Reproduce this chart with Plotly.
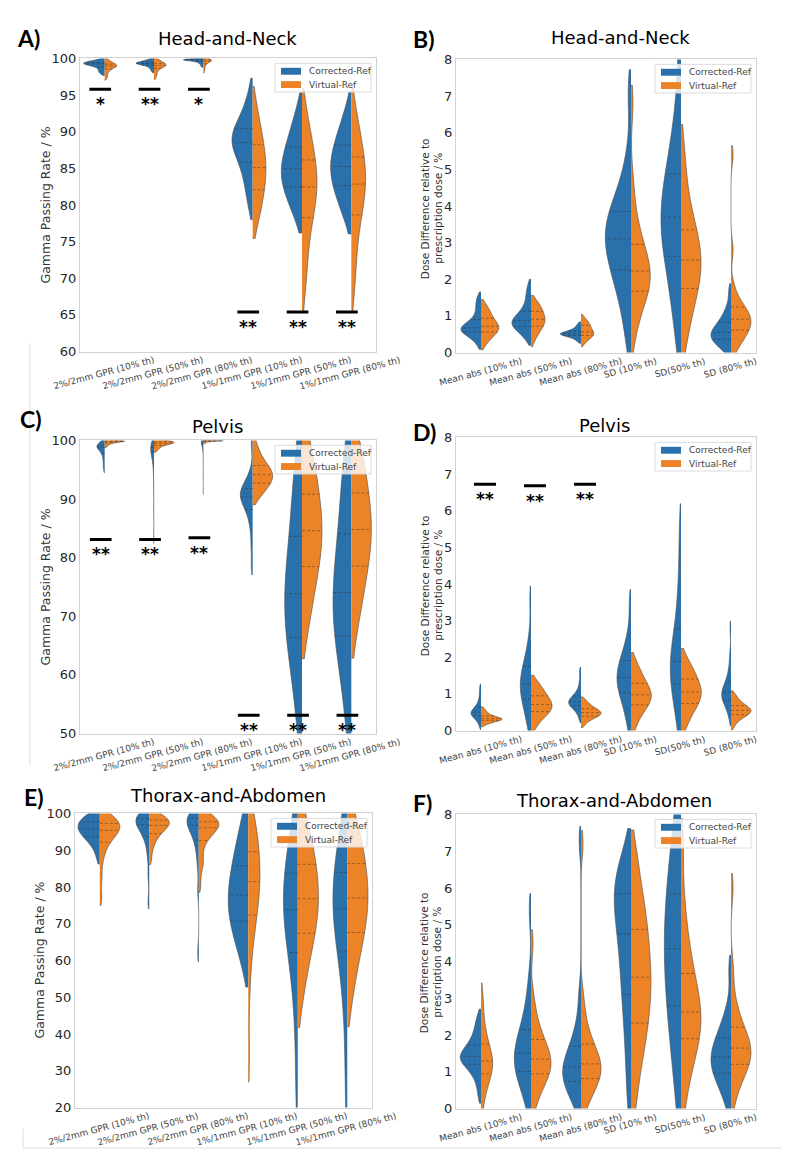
import numpy as np
import plotly.graph_objects as go

W, H = 789, 1152
BLUE, ORANGE = "#2a71ab", "#ec8326"
EDGE = "#4d4d4d"
FONT = "DejaVu Sans"

gpr_categories = ["2%/2mm GPR (10% th)", "2%/2mm GPR (50% th)", "2%/2mm GPR (80% th)",
                  "1%/1mm GPR (10% th)", "1%/1mm GPR (50% th)", "1%/1mm GPR (80% th)"]
dose_categories = ["Mean abs (10% th)", "Mean abs (50% th)", "Mean abs (80% th)",
                   "SD (10% th)", "SD(50% th)", "SD (80% th)"]
series_names = ["Corrected-Ref", "Virtual-Ref"]

# ---------------- A) Head-and-Neck, gamma passing rate (%) ----------------
hn_gpr_corrected = [
    [99.9, 99.7, 99.6, 99.5, 99.5, 99.4, 99.4, 99.3, 99.3, 99.3, 99.2, 99.2, 99.1, 99.0, 98.9, 98.7, 98.5, 98.3, 98.1, 97.9],
    [99.9, 99.8, 99.7, 99.6, 99.5, 99.5, 99.4, 99.4, 99.4, 99.3, 99.3, 99.3, 99.2, 99.2, 99.1, 99.0, 98.9, 98.7, 98.5, 98.2],
    [100.0, 99.95, 99.9, 99.9, 99.9, 99.85, 99.85, 99.8, 99.8, 99.8, 99.75, 99.75, 99.7, 99.7, 99.6, 99.5, 99.4, 99.3, 99.1, 98.9],
    [95.5, 93.5, 92.3, 91.5, 90.8, 90.3, 89.8, 89.4, 89.0, 88.7, 88.3, 87.9, 87.4, 86.8, 86.0, 85.2, 84.2, 83.0, 81.5, 79.8],
    [93.2, 91.5, 90.3, 89.3, 88.5, 87.7, 87.0, 86.4, 85.8, 85.2, 84.7, 84.2, 83.7, 83.2, 82.6, 82.0, 81.3, 80.5, 79.4, 78.3],
    [93.3, 91.6, 90.4, 89.5, 88.7, 88.0, 87.3, 86.7, 86.1, 85.5, 85.0, 84.5, 84.0, 83.4, 82.8, 82.1, 81.3, 80.4, 79.3, 78.2],
]
hn_gpr_virtual = [
    [99.9, 99.7, 99.5, 99.4, 99.3, 99.2, 99.1, 99.1, 99.0, 99.0, 98.9, 98.9, 98.8, 98.7, 98.6, 98.4, 98.2, 97.9, 97.6, 97.3],
    [99.9, 99.8, 99.6, 99.5, 99.4, 99.3, 99.2, 99.2, 99.1, 99.1, 99.0, 99.0, 98.9, 98.8, 98.7, 98.5, 98.3, 98.0, 97.7, 97.4],
    [100.0, 99.95, 99.9, 99.85, 99.8, 99.8, 99.75, 99.7, 99.7, 99.65, 99.6, 99.6, 99.5, 99.4, 99.3, 99.2, 99.0, 98.8, 98.5, 98.2],
    [93.8, 92.0, 90.8, 89.8, 88.9, 88.0, 87.3, 86.6, 86.0, 85.4, 84.8, 84.2, 83.6, 83.0, 82.3, 81.5, 80.6, 79.5, 78.5, 77.8],
    [92.8, 90.8, 89.3, 88.0, 86.9, 85.9, 85.0, 84.2, 83.5, 82.8, 82.1, 81.4, 80.6, 79.7, 78.6, 77.3, 75.6, 73.5, 70.8, 68.5],
    [92.9, 91.0, 89.6, 88.4, 87.3, 86.3, 85.4, 84.6, 83.9, 83.2, 82.5, 81.8, 81.0, 80.1, 79.0, 77.6, 75.9, 73.7, 70.9, 68.5],
]
hn_sig_levels = [95.8, 95.8, 95.8, 65.4, 65.4, 65.4]
hn_sig_labels = ["*", "**", "*", "**", "**", "**"]

# ---------------- B) Head-and-Neck, dose difference (%) ----------------
hn_dose_corrected = [
    [0.22, 0.35, 0.45, 0.50, 0.54, 0.57, 0.60, 0.62, 0.64, 0.66, 0.69, 0.72, 0.76, 0.81, 0.88, 0.97, 1.10, 1.25, 1.38, 1.52],
    [0.36, 0.48, 0.57, 0.63, 0.68, 0.72, 0.76, 0.79, 0.82, 0.85, 0.88, 0.92, 0.97, 1.03, 1.10, 1.20, 1.32, 1.48, 1.65, 1.84],
    [0.30, 0.36, 0.40, 0.43, 0.45, 0.47, 0.48, 0.49, 0.50, 0.51, 0.52, 0.53, 0.54, 0.56, 0.58, 0.60, 0.63, 0.67, 0.72, 0.79],
    [0.3, 1.0, 1.5, 1.8, 2.1, 2.3, 2.5, 2.7, 2.9, 3.0, 3.2, 3.3, 3.5, 3.6, 3.8, 4.0, 4.2, 4.6, 5.3, 7.1],
    [0.3, 1.0, 1.6, 2.0, 2.4, 2.7, 3.0, 3.2, 3.4, 3.6, 3.8, 4.0, 4.2, 4.5, 4.8, 5.1, 5.5, 6.0, 6.8, 8.3],
    [0.05, 0.15, 0.22, 0.28, 0.33, 0.37, 0.41, 0.45, 0.49, 0.53, 0.57, 0.62, 0.67, 0.73, 0.80, 0.88, 0.98, 1.10, 1.30, 1.70],
]
hn_dose_virtual = [
    [0.22, 0.33, 0.42, 0.48, 0.53, 0.57, 0.61, 0.64, 0.67, 0.70, 0.73, 0.77, 0.81, 0.86, 0.92, 0.99, 1.06, 1.14, 1.22, 1.30],
    [0.32, 0.45, 0.55, 0.62, 0.68, 0.73, 0.77, 0.81, 0.85, 0.89, 0.93, 0.97, 1.01, 1.06, 1.11, 1.17, 1.23, 1.29, 1.35, 1.40],
    [0.26, 0.33, 0.38, 0.42, 0.45, 0.47, 0.49, 0.51, 0.53, 0.55, 0.57, 0.60, 0.64, 0.70, 0.74, 0.76, 0.78, 0.82, 0.88, 0.94],
    [0.4, 0.9, 1.2, 1.4, 1.6, 1.7, 1.85, 1.95, 2.05, 2.15, 2.3, 2.4, 2.55, 2.7, 2.9, 3.1, 3.4, 3.8, 4.6, 6.8],
    [0.2, 0.7, 1.1, 1.4, 1.6, 1.8, 2.0, 2.15, 2.3, 2.45, 2.6, 2.75, 2.9, 3.1, 3.3, 3.5, 3.8, 4.2, 4.8, 5.6],
    [0.08, 0.25, 0.38, 0.48, 0.56, 0.63, 0.70, 0.76, 0.82, 0.88, 0.94, 1.00, 1.07, 1.14, 1.22, 1.32, 1.48, 1.80, 2.8, 5.4],
]

# ---------------- C) Pelvis, gamma passing rate (%) ----------------
pelvis_gpr_corrected = [
    [99.8, 99.6, 99.4, 99.3, 99.2, 99.1, 99.0, 99.0, 98.9, 98.8, 98.7, 98.6, 98.4, 98.2, 97.9, 97.5, 97.0, 96.4, 95.7, 95.0],
    [99.8, 99.5, 99.3, 99.1, 98.9, 98.8, 98.6, 98.5, 98.4, 98.2, 98.0, 97.8, 97.5, 97.0, 96.3, 95.3, 93.8, 91.5, 88.0, 83.5],
    [99.95, 99.9, 99.85, 99.8, 99.75, 99.7, 99.65, 99.6, 99.55, 99.5, 99.4, 99.3, 99.2, 99.0, 98.7, 98.3, 97.6, 96.5, 94.5, 91.2],
    [99.5, 94.5, 93.3, 92.6, 92.1, 91.7, 91.4, 91.1, 90.8, 90.5, 90.2, 89.9, 89.5, 89.0, 88.4, 87.6, 86.5, 84.8, 82.0, 78.5],
    [99.5, 96.5, 93.5, 90.5, 88.0, 85.5, 83.0, 81.0, 79.0, 77.5, 76.0, 74.5, 73.2, 72.0, 70.8, 69.5, 68.2, 66.8, 65.2, 63.5, 61.0, 58.0, 54.5, 49.0],
    [99.5, 96.8, 93.8, 91.0, 88.5, 86.0, 83.5, 81.3, 79.3, 77.7, 76.2, 74.7, 73.4, 72.2, 71.0, 69.7, 68.4, 67.0, 65.4, 63.6, 61.2, 58.2, 54.6, 49.2],
]
pelvis_gpr_virtual = [
    [100.0, 100.0, 99.95, 99.95, 99.9, 99.9, 99.9, 99.85, 99.85, 99.8, 99.8, 99.75, 99.7, 99.65, 99.6, 99.5, 99.4, 99.3, 99.1, 98.9],
    [100.0, 99.95, 99.9, 99.85, 99.8, 99.75, 99.7, 99.65, 99.6, 99.55, 99.5, 99.45, 99.4, 99.3, 99.2, 99.1, 98.9, 98.7, 98.5, 98.2],
    [100.0, 100.0, 100.0, 99.98, 99.97, 99.96, 99.95, 99.94, 99.93, 99.92, 99.9, 99.9, 99.88, 99.86, 99.84, 99.8, 99.75, 99.7, 99.6, 99.5],
    [99.6, 98.3, 97.3, 96.6, 96.1, 95.6, 95.2, 94.9, 94.6, 94.3, 94.0, 93.7, 93.4, 93.1, 92.8, 92.4, 92.0, 91.5, 90.9, 90.2],
    [99.7, 98.5, 96.8, 95.0, 93.3, 91.8, 90.5, 89.3, 88.2, 87.1, 86.1, 85.1, 84.1, 83.1, 82.1, 81.1, 80.0, 78.8, 77.5, 76.0, 74.3, 72.3, 70.0, 67.3],
    [99.7, 98.6, 97.0, 95.2, 93.5, 92.0, 90.7, 89.5, 88.4, 87.3, 86.3, 85.3, 84.3, 83.3, 82.3, 81.2, 80.1, 78.9, 77.6, 76.1, 74.4, 72.4, 70.1, 67.4],
]
pelvis_gpr_sig_levels = [83.1, 83.1, 83.4, 53.1, 53.1, 53.1]
pelvis_gpr_sig_labels = ["**", "**", "**", "**", "**", "**"]

# ---------------- D) Pelvis, dose difference (%) ----------------
pelvis_dose_corrected = [
    [0.12, 0.25, 0.32, 0.36, 0.39, 0.41, 0.43, 0.45, 0.47, 0.49, 0.51, 0.53, 0.56, 0.59, 0.63, 0.68, 0.75, 0.85, 1.0, 1.18],
    [0.05, 0.3, 0.5, 0.65, 0.78, 0.9, 1.0, 1.08, 1.16, 1.24, 1.32, 1.40, 1.50, 1.60, 1.72, 1.85, 2.0, 2.2, 2.6, 3.6],
    [0.32, 0.48, 0.56, 0.61, 0.65, 0.68, 0.71, 0.74, 0.76, 0.78, 0.80, 0.83, 0.86, 0.89, 0.93, 0.98, 1.05, 1.15, 1.35, 1.62],
    [0.05, 0.4, 0.6, 0.8, 0.95, 1.05, 1.15, 1.25, 1.33, 1.41, 1.49, 1.58, 1.67, 1.77, 1.88, 2.0, 2.15, 2.35, 2.7, 3.5],
    [0.05, 0.4, 0.7, 0.95, 1.15, 1.3, 1.45, 1.58, 1.7, 1.82, 1.95, 2.1, 2.25, 2.45, 2.7, 3.0, 3.4, 3.9, 4.7, 5.6],
    [0.32, 0.55, 0.66, 0.74, 0.8, 0.85, 0.9, 0.94, 0.98, 1.02, 1.06, 1.11, 1.16, 1.22, 1.3, 1.4, 1.55, 1.75, 2.1, 2.8],
]
pelvis_dose_virtual = [
    [0.15, 0.20, 0.23, 0.25, 0.27, 0.28, 0.29, 0.30, 0.31, 0.32, 0.33, 0.34, 0.35, 0.37, 0.39, 0.42, 0.45, 0.49, 0.54, 0.60],
    [0.08, 0.25, 0.35, 0.42, 0.48, 0.53, 0.57, 0.61, 0.65, 0.69, 0.73, 0.77, 0.82, 0.87, 0.93, 1.0, 1.07, 1.15, 1.24, 1.34],
    [0.16, 0.25, 0.31, 0.35, 0.38, 0.40, 0.42, 0.44, 0.46, 0.48, 0.50, 0.52, 0.54, 0.56, 0.59, 0.62, 0.66, 0.71, 0.77, 0.84],
    [0.05, 0.3, 0.45, 0.56, 0.65, 0.72, 0.79, 0.85, 0.9, 0.95, 1.0, 1.06, 1.12, 1.19, 1.27, 1.36, 1.46, 1.58, 1.72, 1.9],
    [0.05, 0.3, 0.45, 0.58, 0.68, 0.76, 0.83, 0.9, 0.96, 1.02, 1.08, 1.15, 1.22, 1.3, 1.38, 1.47, 1.57, 1.68, 1.8, 1.98],
    [0.12, 0.25, 0.32, 0.37, 0.41, 0.44, 0.47, 0.5, 0.52, 0.54, 0.56, 0.58, 0.61, 0.64, 0.67, 0.71, 0.76, 0.82, 0.9, 0.99],
]
pelvis_dose_sig_levels = [6.72, 6.68, 6.72, None, None, None]
pelvis_dose_sig_labels = ["**", "**", "**", "", "", ""]

# ---------------- E) Thorax-and-Abdomen, gamma passing rate (%) ----------------
ta_gpr_corrected = [
    [99.9, 99.5, 99.0, 98.5, 98.0, 97.6, 97.2, 96.8, 96.4, 96.0, 95.6, 95.2, 94.8, 94.3, 93.8, 93.2, 92.5, 91.6, 90.3, 87.8],
    [100.0, 99.8, 99.5, 99.2, 98.9, 98.6, 98.3, 98.0, 97.6, 97.2, 96.7, 96.2, 95.6, 94.9, 94.0, 92.8, 91.0, 88.0, 83.0, 76.0],
    [100.0, 99.8, 99.5, 99.2, 98.9, 98.6, 98.3, 97.9, 97.5, 97.0, 96.5, 95.9, 95.2, 94.3, 93.2, 91.6, 89.5, 86.0, 79.0, 62.0],
    [99.5, 95.5, 92.5, 90.0, 87.8, 85.8, 84.0, 82.3, 80.7, 79.2, 77.8, 76.4, 75.0, 73.6, 72.2, 70.7, 69.1, 67.3, 65.2, 62.5, 58.5],
    [99.5, 96.5, 93.5, 91.0, 88.8, 86.8, 85.0, 83.3, 81.7, 80.2, 78.8, 77.4, 76.0, 74.6, 73.2, 71.8, 70.3, 68.7, 67.0, 65.0, 62.8, 60.3, 57.4, 53.8, 49.0, 42.0, 32.0, 21.0],
    [99.5, 96.6, 93.7, 91.2, 89.0, 87.0, 85.2, 83.5, 81.9, 80.4, 79.0, 77.6, 76.2, 74.8, 73.4, 72.0, 70.5, 68.9, 67.2, 65.2, 63.0, 60.5, 57.6, 54.0, 49.2, 42.2, 32.2, 21.2],
]
ta_gpr_virtual = [
    [99.8, 99.2, 98.6, 98.1, 97.6, 97.2, 96.8, 96.4, 96.0, 95.6, 95.2, 94.7, 94.1, 93.4, 92.5, 91.2, 89.6, 87.0, 82.5, 77.0],
    [99.9, 99.5, 99.1, 98.7, 98.4, 98.1, 97.8, 97.5, 97.2, 96.9, 96.6, 96.2, 95.8, 95.3, 94.7, 94.0, 93.1, 92.0, 90.3, 87.5],
    [99.8, 99.3, 98.8, 98.4, 98.0, 97.6, 97.3, 97.0, 96.7, 96.3, 95.9, 95.4, 94.8, 94.0, 93.0, 91.6, 89.0, 86.5, 85.5, 80.5],
    [99.8, 98.0, 96.0, 94.0, 92.0, 90.0, 88.3, 86.7, 85.2, 83.7, 82.2, 80.7, 79.2, 77.6, 75.9, 74.0, 71.8, 69.2, 66.0, 61.5, 52.0, 33.5],
    [99.6, 97.0, 94.5, 92.3, 90.3, 88.4, 86.6, 84.9, 83.3, 81.8, 80.3, 78.9, 77.5, 76.1, 74.7, 73.3, 71.8, 70.3, 68.7, 67.0, 65.1, 63.0, 60.5, 57.5, 53.5, 48.5],
    [99.6, 97.1, 94.7, 92.5, 90.5, 88.6, 86.8, 85.1, 83.5, 82.0, 80.5, 79.1, 77.7, 76.3, 74.9, 73.5, 72.0, 70.5, 68.9, 67.2, 65.3, 63.2, 60.7, 57.7, 53.7, 48.7],
]

# ---------------- F) Thorax-and-Abdomen, dose difference (%) ----------------
ta_dose_corrected = [
    [0.35, 0.7, 0.9, 1.05, 1.15, 1.22, 1.28, 1.32, 1.36, 1.40, 1.44, 1.49, 1.55, 1.62, 1.70, 1.80, 1.92, 2.08, 2.28, 2.5],
    [0.05, 0.4, 0.6, 0.78, 0.92, 1.04, 1.15, 1.25, 1.35, 1.45, 1.56, 1.67, 1.80, 1.94, 2.1, 2.3, 2.55, 2.9, 3.5, 5.4],
    [0.05, 0.25, 0.42, 0.55, 0.66, 0.76, 0.85, 0.93, 1.01, 1.09, 1.18, 1.28, 1.39, 1.51, 1.65, 1.82, 2.05, 2.4, 3.1, 7.3],
    [0.1, 1.0, 1.7, 2.3, 2.8, 3.2, 3.6, 3.95, 4.3, 4.6, 4.9, 5.15, 5.4, 5.6, 5.8, 6.0, 6.2, 6.4, 6.65, 7.0],
    [0.1, 1.0, 1.6, 2.1, 2.5, 2.9, 3.3, 3.6, 3.9, 4.2, 4.5, 4.8, 5.1, 5.4, 5.75, 6.1, 6.5, 7.0, 7.6, 8.3],
    [0.05, 0.4, 0.6, 0.75, 0.88, 0.99, 1.09, 1.18, 1.27, 1.36, 1.45, 1.55, 1.65, 1.76, 1.88, 2.02, 2.18, 2.4, 2.75, 3.8],
]
ta_dose_virtual = [
    [0.05, 0.4, 0.6, 0.75, 0.87, 0.97, 1.05, 1.12, 1.19, 1.26, 1.33, 1.41, 1.50, 1.60, 1.72, 1.86, 2.05, 2.3, 2.7, 3.1],
    [0.05, 0.4, 0.6, 0.75, 0.87, 0.97, 1.06, 1.14, 1.22, 1.30, 1.39, 1.48, 1.58, 1.70, 1.84, 2.0, 2.2, 2.5, 3.0, 4.5],
    [0.05, 0.3, 0.5, 0.63, 0.74, 0.84, 0.93, 1.01, 1.09, 1.17, 1.26, 1.35, 1.45, 1.57, 1.71, 1.88, 2.1, 2.45, 3.0, 7.2],
    [0.1, 0.9, 1.4, 1.8, 2.1, 2.4, 2.7, 2.95, 3.2, 3.45, 3.7, 3.95, 4.2, 4.5, 4.8, 5.1, 5.4, 5.8, 6.3, 7.0],
    [0.1, 0.8, 1.2, 1.5, 1.75, 1.95, 2.1, 2.25, 2.4, 2.55, 2.7, 2.9, 3.1, 3.35, 3.6, 3.9, 4.3, 4.8, 5.6, 7.2],
    [0.2, 0.6, 0.85, 1.0, 1.12, 1.23, 1.33, 1.42, 1.51, 1.60, 1.69, 1.79, 1.90, 2.02, 2.17, 2.35, 2.6, 3.0, 3.8, 6.0],
]

NO_SIG = [None] * 6
NO_LAB = [""] * 6
GPR_TITLE = ["Gamma Passing Rate / %"]
DOSE_TITLE = ["Dose Difference relative to", "prescription dose / %"]
BW1 = [1, 1, 1, 1, 1, 1]

# ---------------- layout / style (pixels) ----------------
panels = [
    dict(letter="A)", title="Head-and-Neck", cats=gpr_categories, blue=hn_gpr_corrected, orange=hn_gpr_virtual,
         yrange=[60, 100], dtick=5, ytitle=GPR_TITLE, box=(72, 44, 368, 341),
         hw_blue=[21, 18, 20, 20.7, 20.7, 20.7], hw_orange=[12, 12, 8, 13.3, 15, 14.3], bw_scale=BW1,
         sig=hn_sig_levels, sig_lab=hn_sig_labels, sig_off=-0.09,
         title_xy=(220, 24), letter_xy=(20, 23), ytitle_xy=(37, 193)),
    dict(letter="B)", title="Head-and-Neck", cats=dose_categories, blue=hn_dose_corrected, orange=hn_dose_virtual,
         yrange=[0, 8], dtick=1, ytitle=DOSE_TITLE, box=(448, 45, 748, 342),
         hw_blue=[20, 19, 20.7, 25.7, 20, 20], hw_orange=[17.7, 14, 12.7, 19.3, 20, 20], bw_scale=BW1,
         sig=NO_SIG, sig_lab=NO_LAB, sig_off=0,
         title_xy=(612, 23), letter_xy=(415, 24), ytitle_xy=(426, 196)),
    dict(letter="C)", title="Pelvis", cats=gpr_categories, blue=pelvis_gpr_corrected, orange=pelvis_gpr_virtual,
         yrange=[50, 100], dtick=10, ytitle=GPR_TITLE, box=(72, 431, 368, 728),
         hw_blue=[7.7, 3.3, 2, 12.3, 17.3, 18.3], hw_orange=[20, 20, 20, 20, 20, 20], bw_scale=BW1,
         sig=pelvis_gpr_sig_levels, sig_lab=pelvis_gpr_sig_labels, sig_off=-0.08,
         title_xy=(209, 417), letter_xy=(23, 409), ytitle_xy=(37, 580)),
    dict(letter="D)", title="Pelvis", cats=dose_categories, blue=pelvis_dose_corrected, orange=pelvis_dose_virtual,
         yrange=[0, 8], dtick=1, ytitle=DOSE_TITLE, box=(448, 428, 748, 725),
         hw_blue=[10, 10.7, 12.3, 14, 10.7, 9.3], hw_orange=[21, 21, 20, 20.3, 20.3, 20], bw_scale=BW1,
         sig=pelvis_dose_sig_levels, sig_lab=pelvis_dose_sig_labels, sig_off=0.08,
         title_xy=(596, 416), letter_xy=(416, 423), ytitle_xy=(426, 578)),
    dict(letter="E)", title="Thorax-and-Abdomen", cats=gpr_categories, blue=ta_gpr_corrected, orange=ta_gpr_virtual,
         yrange=[20, 100], dtick=10, ytitle=GPR_TITLE, box=(67, 809, 364, 1107),
         hw_blue=[21.7, 13.3, 11.7, 20, 14.3, 14.3], hw_orange=[20, 20, 20, 11.7, 20.7, 20.7], bw_scale=BW1,
         sig=NO_SIG, sig_lab=NO_LAB, sig_off=0,
         title_xy=(220, 791), letter_xy=(26, 792), ytitle_xy=(32, 958)),
    dict(letter="F)", title="Thorax-and-Abdomen", cats=dose_categories, blue=ta_dose_corrected, orange=ta_dose_virtual,
         yrange=[0, 8], dtick=1, ytitle=DOSE_TITLE, box=(448, 810, 748, 1108),
         hw_blue=[20.7, 16.7, 18.3, 16.7, 16.7, 20], hw_orange=[11.7, 20, 20, 20, 20, 20],
         bw_scale=[1, 1, 1, 0.6, 1, 1],
         sig=NO_SIG, sig_lab=NO_LAB, sig_off=0,
         title_xy=(606, 796), letter_xy=(414, 798), ytitle_xy=(424, 960)),
]

SPAN_BW = 0.9  # how far (in bandwidths) each violin extends past its data


def px(x):
    return x / W


def py(y):
    return 1 - y / H


def silverman(v):
    q1, q3 = np.percentile(v, [25, 75])
    a = min(np.std(v, ddof=1), (q3 - q1) / 1.349)
    return 1.059 * a * len(v) ** -0.2


def kde_profile(v, bw, lo, hi):
    n = int(np.ceil((hi - lo) / (bw / 3)))
    grid = np.linspace(lo, hi, n + 1)

    def dens(t):
        t = np.atleast_1d(np.asarray(t, float))[:, None]
        return np.exp(-0.5 * ((t - v) / bw) ** 2).sum(1) / (len(v) * bw * np.sqrt(2 * np.pi))

    return dens, dens(grid).max()


fig = go.Figure()
layout_axes = {}
annotations = []
shapes = []

for k, p in enumerate(panels):
    n = k + 1
    xa, ya = ("x", "y") if n == 1 else (f"x{n}", f"y{n}")
    xkey, ykey = ("xaxis", "yaxis") if n == 1 else (f"xaxis{n}", f"yaxis{n}")
    L, T, R, B = p["box"]
    step_px = (R - L) / 6.0

    layout_axes[xkey] = dict(domain=[px(L), px(R)], anchor=ya, range=[-0.5, 5.5],
                             showticklabels=False, ticks="", showgrid=False, zeroline=False,
                             showline=True, mirror=True, linecolor="#d2d2d2", linewidth=1, fixedrange=True)
    layout_axes[ykey] = dict(domain=[py(B), py(T)], anchor=xa, range=p["yrange"], dtick=p["dtick"], tick0=0,
                             ticks="", showgrid=False, zeroline=False, showline=True, mirror=True,
                             linecolor="#d2d2d2", linewidth=1, fixedrange=True,
                             tickfont=dict(family=FONT, size=13, color="#262626"))

    for i in range(6):
        for side, vals, hw, color in (("negative", p["blue"][i], p["hw_blue"][i], BLUE),
                                      ("positive", p["orange"][i], p["hw_orange"][i], ORANGE)):
            v = np.asarray(vals, float)
            bw = silverman(v) * p["bw_scale"][i]
            lo, hi = v.min() - SPAN_BW * bw, v.max() + SPAN_BW * bw
            width = 2 * hw / step_px
            fig.add_trace(go.Violin(
                x=[i] * len(v), y=v, xaxis=xa, yaxis=ya, side=side, width=width,
                scalemode="width", scalegroup=f"g{n}_{i}_{side}", bandwidth=bw,
                spanmode="manual", span=[lo, hi],
                points=False, fillcolor=color, line=dict(color=EDGE, width=0.6),
                showlegend=False, hoverinfo="skip", opacity=1,
                name=series_names[0] if side == "negative" else series_names[1]))
            dens, dmax = kde_profile(v, bw, lo, hi)
            qs = np.percentile(v, [25, 50, 75])
            sgn = -1 if side == "negative" else 1
            xs, ys = [], []
            for q in qs:
                xs += [i, i + sgn * (width / 2) * dens(q)[0] / dmax, None]
                ys += [q, q, None]
            fig.add_trace(go.Scatter(x=xs, y=ys, xaxis=xa, yaxis=ya, mode="lines",
                                     line=dict(color="rgba(45,45,45,0.55)", width=0.8, dash="3px,2px"),
                                     showlegend=False, hoverinfo="skip"))

    # category labels (rotated, centred under each violin)
    for i, c in enumerate(p["cats"]):
        annotations.append(dict(x=i, y=0, xref=xa, yref=f"{ya} domain", yshift=-1, xshift=-1,
                                text=c, textangle=-15, showarrow=False, xanchor="center", yanchor="top",
                                font=dict(family=FONT, size=9, color="#444444")))

    # significance bars
    for i, (lvl, lab) in enumerate(zip(p["sig"], p["sig_lab"])):
        if lvl is None:
            continue
        c = i + p["sig_off"]
        shapes.append(dict(type="line", xref=xa, yref=ya, x0=c - 0.22, x1=c + 0.22, y0=lvl, y1=lvl,
                           line=dict(color="black", width=3), layer="above"))
        annotations.append(dict(x=c, y=lvl, xref=xa, yref=ya, yshift=-15, text=f"<b>{lab}</b>",
                                showarrow=False, xanchor="center", yanchor="middle",
                                font=dict(family=FONT, size=17, color="black")))

    # titles
    tx, ty = p["title_xy"]
    annotations.append(dict(x=px(tx), y=py(ty), xref="paper", yref="paper", text=p["title"], showarrow=False,
                            xanchor="center", yanchor="middle", font=dict(family=FONT, size=18, color="black")))
    lx, ly = p["letter_xy"]
    annotations.append(dict(x=px(lx), y=py(ly), xref="paper", yref="paper", text=f"<b>{p['letter']}</b>",
                            showarrow=False, xanchor="center", yanchor="middle",
                            font=dict(family="Lato", size=23, color="black")))
    # y-axis title (one or two lines, rotated)
    yx, yy = p["ytitle_xy"]
    lines = p["ytitle"]
    fs = 12.5 if len(lines) == 1 else 10.5
    for j, line in enumerate(lines):
        off = (j - (len(lines) - 1) / 2) * 12.5
        annotations.append(dict(x=px(yx + off - (2 if len(lines) > 1 else 0)), y=py(yy), xref="paper", yref="paper",
                                text=line, showarrow=False, textangle=-90, xanchor="center", yanchor="middle",
                                font=dict(family=FONT, size=fs, color="#333333")))

    # legend (upper right, semi-transparent frame)
    bx0, bx1, by0, by1 = R - 101, R - 5, T + 5, T + 34
    shapes.append(dict(type="rect", xref="paper", yref="paper", x0=px(bx0), x1=px(bx1), y0=py(by1), y1=py(by0),
                       fillcolor="rgba(255,255,255,0.8)", line=dict(color="#dcdcdc", width=1), layer="above"))
    for j, (nm, col) in enumerate(zip(series_names, (BLUE, ORANGE))):
        cy = by0 + 8 + j * 13.5
        shapes.append(dict(type="rect", xref="paper", yref="paper", x0=px(bx0 + 6), x1=px(bx0 + 26),
                           y0=py(cy + 3.5), y1=py(cy - 3.5), fillcolor=col, line=dict(width=0), layer="above"))
        annotations.append(dict(x=px(bx0 + 32), y=py(cy), xref="paper", yref="paper", text=nm, showarrow=False,
                                xanchor="left", yanchor="middle", font=dict(family=FONT, size=9, color="#444444")))

# faint borders of the original composite image
for (x0, y0, x1, y1) in [(786, 0, 786, 385), (22, 333, 22, 760), (786, 765, 786, 1148),
                         (15, 1148, 786, 1148), (15, 1128, 15, 1148)]:
    shapes.append(dict(type="line", xref="paper", yref="paper", x0=px(x0), x1=px(x1), y0=py(y0), y1=py(y1),
                       line=dict(color="#dddddd", width=1)))

fig.update_layout(width=W, height=H, margin=dict(l=0, r=0, t=0, b=0), autosize=False,
                  paper_bgcolor="white", plot_bgcolor="white", violinmode="overlay",
                  showlegend=False, annotations=annotations, shapes=shapes,
                  font=dict(family=FONT), **layout_axes)
fig.write_html("out.html")
